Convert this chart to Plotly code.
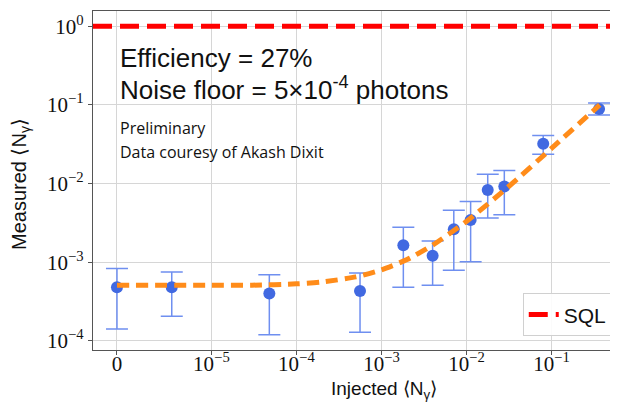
import numpy as np
import plotly.graph_objects as go

# ---------------- data ----------------
injected = [0, 5.8e-6, 4.8e-5, 5.6e-4, 1.81e-3, 4.0e-3, 7.1e-3, 1.12e-2, 1.78e-2, 2.79e-2, 8.0e-2, 0.363]
measured = [4.8e-4, 4.8e-4, 4.0e-4, 4.3e-4, 1.64e-3, 1.21e-3, 2.62e-3, 3.43e-3, 8.3e-3, 9.2e-3, 3.21e-2, 8.9e-2]
err_high = [8.3e-4, 7.5e-4, 6.9e-4, 7.3e-4, 2.78e-3, 1.86e-3, 4.57e-3, 5.9e-3, 1.31e-2, 1.47e-2, 4.08e-2, 0.106]
err_low = [1.41e-4, 2.05e-4, 1.19e-4, 1.28e-4, 4.8e-4, 5.1e-4, 7.9e-4, 1.01e-3, 3.64e-3, 4.0e-3, 2.36e-2, 7.43e-2]

fit_x = [0, 1e-5, 3e-5, 1e-4, 2e-4, 5e-4, 1e-3, 2e-3, 4e-3, 1e-2, 3e-2, 1e-1, 0.37]
fit_y = [5.1e-4, 5.1e-4, 5.1e-4, 5.3e-4, 5.6e-4, 6.5e-4, 8.0e-4, 1.08e-3, 1.65e-3, 3.3e-3, 8.8e-3, 2.8e-2, 0.1]

sql_level = 1.0

x_tick_vals = [0, 1e-5, 1e-4, 1e-3, 1e-2, 1e-1]
x_tick_text = ["0", "10<sup>−5</sup>", "10<sup>−4</sup>", "10<sup>−3</sup>", "10<sup>−2</sup>", "10<sup>−1</sup>"]
y_tick_vals = [1e-4, 1e-3, 1e-2, 1e-1, 1]
y_tick_text = ["10<sup>−4</sup>", "10<sup>−3</sup>", "10<sup>−2</sup>", "10<sup>−1</sup>", "10<sup>0</sup>"]

# ---------------- symlog transform (matplotlib style) ----------------
LINTHRESH = 1e-5
LINSCALE_ADJ = 1.0 / (1.0 - 1.0 / 10.0)


def symlog(v):
    v = np.asarray(v, dtype=float)
    a = np.abs(v)
    lin = v / LINTHRESH * LINSCALE_ADJ
    lg = np.sign(v) * (LINSCALE_ADJ + np.log10(np.maximum(a, LINTHRESH) / LINTHRESH))
    return np.where(a <= LINTHRESH, lin, lg)


X_RANGE = [-0.282, 5.894]
Y_RANGE = [-4.117, 0.195]

meas = np.array(measured)
err_plus = np.array(err_high) - meas
err_minus = meas - np.array(err_low)

fig = go.Figure()

fig.add_trace(go.Scatter(
    x=X_RANGE, y=[sql_level, sql_level], mode="lines", name="SQL",
    line=dict(color="#ff0000", width=5, dash="19px,8px"),
))

fig.add_trace(go.Scatter(
    x=symlog(injected), y=measured, mode="markers", showlegend=False,
    marker=dict(color="#4169e1", size=12),
    error_y=dict(type="data", array=err_plus, arrayminus=err_minus,
                 color="#6f8ff0", thickness=1.5, width=11),
))

fig.add_trace(go.Scatter(
    x=symlog(fit_x), y=fit_y, mode="lines", showlegend=False,
    line=dict(color="#ff8c1a", width=5, dash="12px,7px", shape="spline", smoothing=0.6),
))

tick_font = dict(family="Liberation Serif", size=21, color="#111")

fig.update_xaxes(
    range=X_RANGE, tickmode="array", tickvals=symlog(x_tick_vals), ticktext=x_tick_text,
    tickfont=tick_font, showgrid=True, gridcolor="#d6d6d6", gridwidth=1, automargin=False,
    zeroline=False, showline=True, linecolor="#555", linewidth=1.2, mirror=True,
    ticks="outside", ticklen=4, tickcolor="#555", ticklabelstandoff=-9,
)
fig.update_yaxes(
    type="log", range=Y_RANGE, tickmode="array", tickvals=y_tick_vals, ticktext=y_tick_text,
    tickfont=tick_font, showgrid=True, gridcolor="#d6d6d6", gridwidth=1, automargin=False,
    zeroline=False, showline=True, linecolor="#555", linewidth=1.2, mirror=True,
    ticks="outside", ticklen=4, tickcolor="#555",
)

# page body has an 8px margin: compensate so the plot lands where the reference has it
OFF = 8
W, H = 618 - OFF, 407 - OFF
L, R, T, B = 93 - OFF, 0, 11 - OFF, 65 - OFF
pw, ph = W - L - R, H - T - B


def px(xp):
    return (xp - OFF - L) / pw


def py(yp):
    return (H - B - (yp - OFF)) / ph


ann = [
    dict(text="Efficiency = 27%", x=px(118), y=py(58), xanchor="left", yanchor="middle",
         font=dict(family="Liberation Sans", size=26, color="#111")),
    dict(text="Noise floor = 5×10<sup>-4</sup> photons", x=px(118), y=py(88), xanchor="left", yanchor="middle",
         font=dict(family="Liberation Sans", size=26, color="#111")),
    dict(text="Preliminary", x=px(118), y=py(128), xanchor="left", yanchor="middle",
         font=dict(family="Open Sans", size=16, color="#111")),
    dict(text="Data couresy of Akash Dixit", x=px(118), y=py(152), xanchor="left", yanchor="middle",
         font=dict(family="Open Sans", size=16, color="#111")),
    dict(text="Measured ⟨N<sub>γ</sub>⟩", x=px(20), y=py(184), xanchor="center", yanchor="middle",
         textangle=-90, font=dict(family="Liberation Sans", size=20, color="#111")),
    dict(text="Injected ⟨N<sub>γ</sub>⟩", x=px(384), y=py(390), xanchor="center", yanchor="middle",
         font=dict(family="Liberation Sans", size=19, color="#111")),
]
for a in ann:
    a.update(xref="paper", yref="paper", showarrow=False)

fig.update_layout(
    width=W, height=H,
    margin=dict(l=L, r=R, t=T, b=B, pad=0, autoexpand=False),
    paper_bgcolor="white", plot_bgcolor="white",
    annotations=ann,
    legend=dict(x=0.99, y=0.04, xanchor="right", yanchor="bottom",
                bgcolor="rgba(255,255,255,0.9)", bordercolor="#d0d0d0", borderwidth=1,
                font=dict(family="Liberation Sans", size=21, color="#111")),
)

fig.write_html("out.html")
